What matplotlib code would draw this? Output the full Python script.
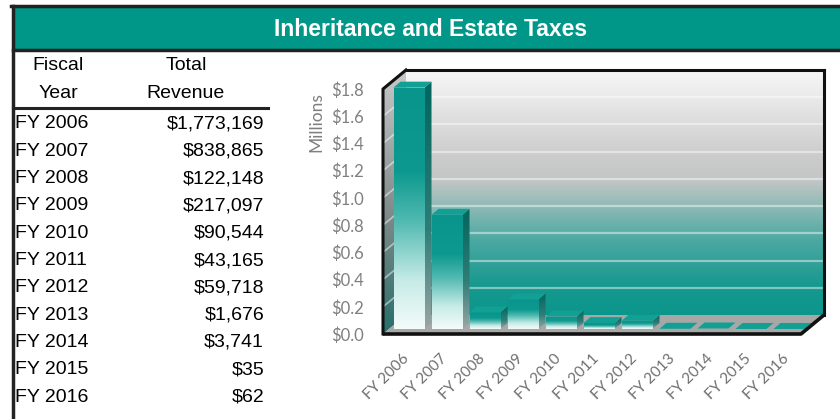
import numpy as np
import matplotlib.pyplot as plt
from matplotlib.patches import Polygon, Rectangle
from matplotlib.lines import Line2D
from matplotlib.colors import LinearSegmentedColormap
from matplotlib import font_manager

# data
years = ['FY 2006', 'FY 2007', 'FY 2008', 'FY 2009', 'FY 2010', 'FY 2011',
         'FY 2012', 'FY 2013', 'FY 2014', 'FY 2015', 'FY 2016']
revenue = [1773169, 838865, 122148, 217097, 90544, 43165, 59718, 1676, 3741, 35, 62]
revenue_m = [v / 1e6 for v in revenue]
yticks = [0.0, 0.2, 0.4, 0.6, 0.8, 1.0, 1.2, 1.4, 1.6, 1.8]
title = 'Inheritance and Estate Taxes'

TEAL = '#009688'
W, H = 840, 419

names = {f.name for f in font_manager.fontManager.ttflist}
title_font = 'Liberation Sans Narrow' if 'Liberation Sans Narrow' in names else 'Liberation Sans'


def fx(px):
    return px / W


def fy(py):
    return 1 - py / H


fig = plt.figure(figsize=(8.4, 4.19), dpi=100)

# frame + title bar
fig.add_artist(Rectangle((fx(13), fy(49)), 1 - fx(13), 41 / H, transform=fig.transFigure,
                         facecolor=TEAL, edgecolor='none'))
fig.add_artist(Line2D([fx(11), 1], [fy(6.5), fy(6.5)], transform=fig.transFigure, color='#222222', lw=2.5))
fig.add_artist(Line2D([fx(13), 1], [fy(50.5), fy(50.5)], transform=fig.transFigure, color='#222222', lw=2.5))
fig.add_artist(Line2D([fx(12.5), fx(12.5)], [fy(6), 0], transform=fig.transFigure, color='#222222', lw=2.5))
fig.text(fx(431), fy(29), title, color='white', fontsize=16.5, fontweight='bold',
         family=title_font, ha='center', va='center')

# table
tf = dict(family='Liberation Sans', fontsize=14, color='black', va='center')
fig.text(fx(58), fy(66), 'Fiscal', ha='center', **tf)
fig.text(fx(58), fy(94), 'Year', ha='center', **tf)
fig.text(fx(186), fy(66), 'Total', ha='center', **tf)
fig.text(fx(186), fy(94), 'Revenue', ha='center', **tf)
fig.add_artist(Line2D([fx(13), fx(268)], [fy(108), fy(108)], transform=fig.transFigure, color='#222222', lw=2.2))
for i, (yr, v) in enumerate(zip(years, revenue)):
    yy = 124 + i * 27.3
    fig.text(fx(15), fy(yy), yr, ha='left', **tf)
    fig.text(fx(264), fy(yy), '${:,}'.format(v), ha='right', **tf)

# 3d-ish chart geometry (pixels)
FL, FR, FB, FT = 383, 801, 334, 89   # front plane
DX, DY = 23, 19                      # depth of walls
pxx = (FR - FL) / 11.0
pxy = (FB - FT) / 1.8
ddx, ddy = DX / pxx, DY / pxy

# back wall
back = fig.add_axes([fx(FL + DX), fy(FB - DY), (FR - FL) / W, (FB - FT) / H], zorder=0)
wall_cmap = LinearSegmentedColormap.from_list('wall', [
    (0.0, '#0b968c'), (0.12, '#17998f'), (0.3, '#4aa8a1'), (0.45, '#93bbb7'),
    (0.55, '#c3c6c5'), (0.65, '#cccccc'), (1.0, '#f8f8f8')])
grad = np.linspace(0, 1, 256).reshape(-1, 1)
back.imshow(grad, cmap=wall_cmap, extent=(-0.5, 10.5, 0, 1.8), aspect='auto', origin='lower')
for v in yticks[1:-1]:
    back.axhline(v, color='white', alpha=0.45, lw=1.6)
back.set_xlim(-0.5, 10.5)
back.set_ylim(0, 1.8)
back.set_xticks([])
back.set_yticks([])
for s in ['left', 'bottom']:
    back.spines[s].set_visible(False)
for s in ['top', 'right']:
    back.spines[s].set_linewidth(2.2)
    back.spines[s].set_color('#111111')

# front plane axes
ax = fig.add_axes([fx(FL), fy(FB), (FR - FL) / W, (FB - FT) / H], zorder=1)
ax.patch.set_visible(False)
for s in ax.spines.values():
    s.set_visible(False)


def grad_fill(poly_pts, x0, x1, y0, y1, cmap, z):
    poly = Polygon(poly_pts, closed=True, facecolor='none', edgecolor='none', transform=ax.transData)
    ax.add_patch(poly)
    poly.set_clip_on(False)
    im = ax.imshow(grad, cmap=cmap, extent=(x0, x1, y0, y1), aspect='auto', origin='lower', zorder=z)
    im.set_clip_path(poly)
    im.set_clip_box(fig.bbox)
    return im


# side wall
side_cmap = LinearSegmentedColormap.from_list('side', [(0, '#276f6b'), (0.45, '#7f8a89'), (1, '#c9c9c9')])
side_pts = [(-0.5, 0), (-0.5, 1.8), (-0.5 + ddx, 1.8 + ddy), (-0.5 + ddx, ddy)]
grad_fill(side_pts, -0.5, -0.5 + ddx, 0, 1.8 + ddy, side_cmap, 1)
for v in yticks[1:-1]:
    ax.plot([-0.5, -0.5 + ddx], [v, v + ddy], color='white', alpha=0.5, lw=1.2, clip_on=False, zorder=2)

# floor
floor_pts = [(-0.5, 0), (10.5, 0), (10.5 + ddx, ddy), (-0.5 + ddx, ddy)]
ax.add_patch(Polygon(floor_pts, closed=True, facecolor='#a7a7a7', edgecolor='none', clip_on=False, zorder=2))

# edges
ax.plot([-0.5, 10.5, 10.5 + ddx], [0, 0, ddy], color='#111111', lw=2.6, clip_on=False, zorder=6,
        solid_capstyle='butt')
ax.plot([-0.5, -0.5, -0.5 + ddx], [0, 1.8, 1.8 + ddy], color='#111111', lw=2.2, clip_on=False, zorder=6)

# bars
bw = 31 / pxx
box, boy = 7 / pxx, 5 / pxy
bdx, bdy = 7 / pxx, 6 / pxy
front_cmap = LinearSegmentedColormap.from_list('front', [
    (0, '#f4fbfa'), (0.2, '#c6ebe7'), (0.45, '#4fb9b0'), (0.65, '#0d998f'), (1, '#09958b')])
sidebar_cmap = LinearSegmentedColormap.from_list('sbar', [(0, '#9aa5a4'), (0.4, '#2f7d77'), (1, '#00665e')])
for i, v in enumerate(revenue_m):
    x0 = i - bw / 2 + box
    x1 = x0 + bw
    y0 = boy
    y1 = boy + v
    if v > 0.005:
        grad_fill([(x0, y0), (x1, y0), (x1, y1), (x0, y1)], x0, x1, y0, y1, front_cmap, 3)
        grad_fill([(x1, y0), (x1 + bdx, y0 + bdy), (x1 + bdx, y1 + bdy), (x1, y1)],
                  x1, x1 + bdx, y0, y1 + bdy, sidebar_cmap, 3)
    ax.add_patch(Polygon([(x0, y1), (x1, y1), (x1 + bdx, y1 + bdy), (x0 + bdx, y1 + bdy)], closed=True,
                         facecolor='#12a095', edgecolor='none', clip_on=False, zorder=4))

ax.set_xlim(-0.5, 10.5)
ax.set_ylim(0, 1.8)
ax.set_yticks(yticks)
ax.set_yticklabels(['${:.1f}'.format(t) for t in yticks], family='Lato', fontsize=12, color='#7f7f7f')
ax.set_xticks(range(len(years)))
ax.set_xticklabels(years, rotation=45, ha='right', rotation_mode='anchor',
                   family='Lato', fontsize=11, color='#6f6f6f')
ax.tick_params(axis='y', length=0, pad=14)
ax.tick_params(axis='x', length=0, pad=13)
fig.text(fx(316), fy(122), 'Millions', rotation=90, ha='center', va='center',
         family='Lato', fontsize=12.5, color='#7f7f7f')

fig.savefig('out.png', dpi=100)
